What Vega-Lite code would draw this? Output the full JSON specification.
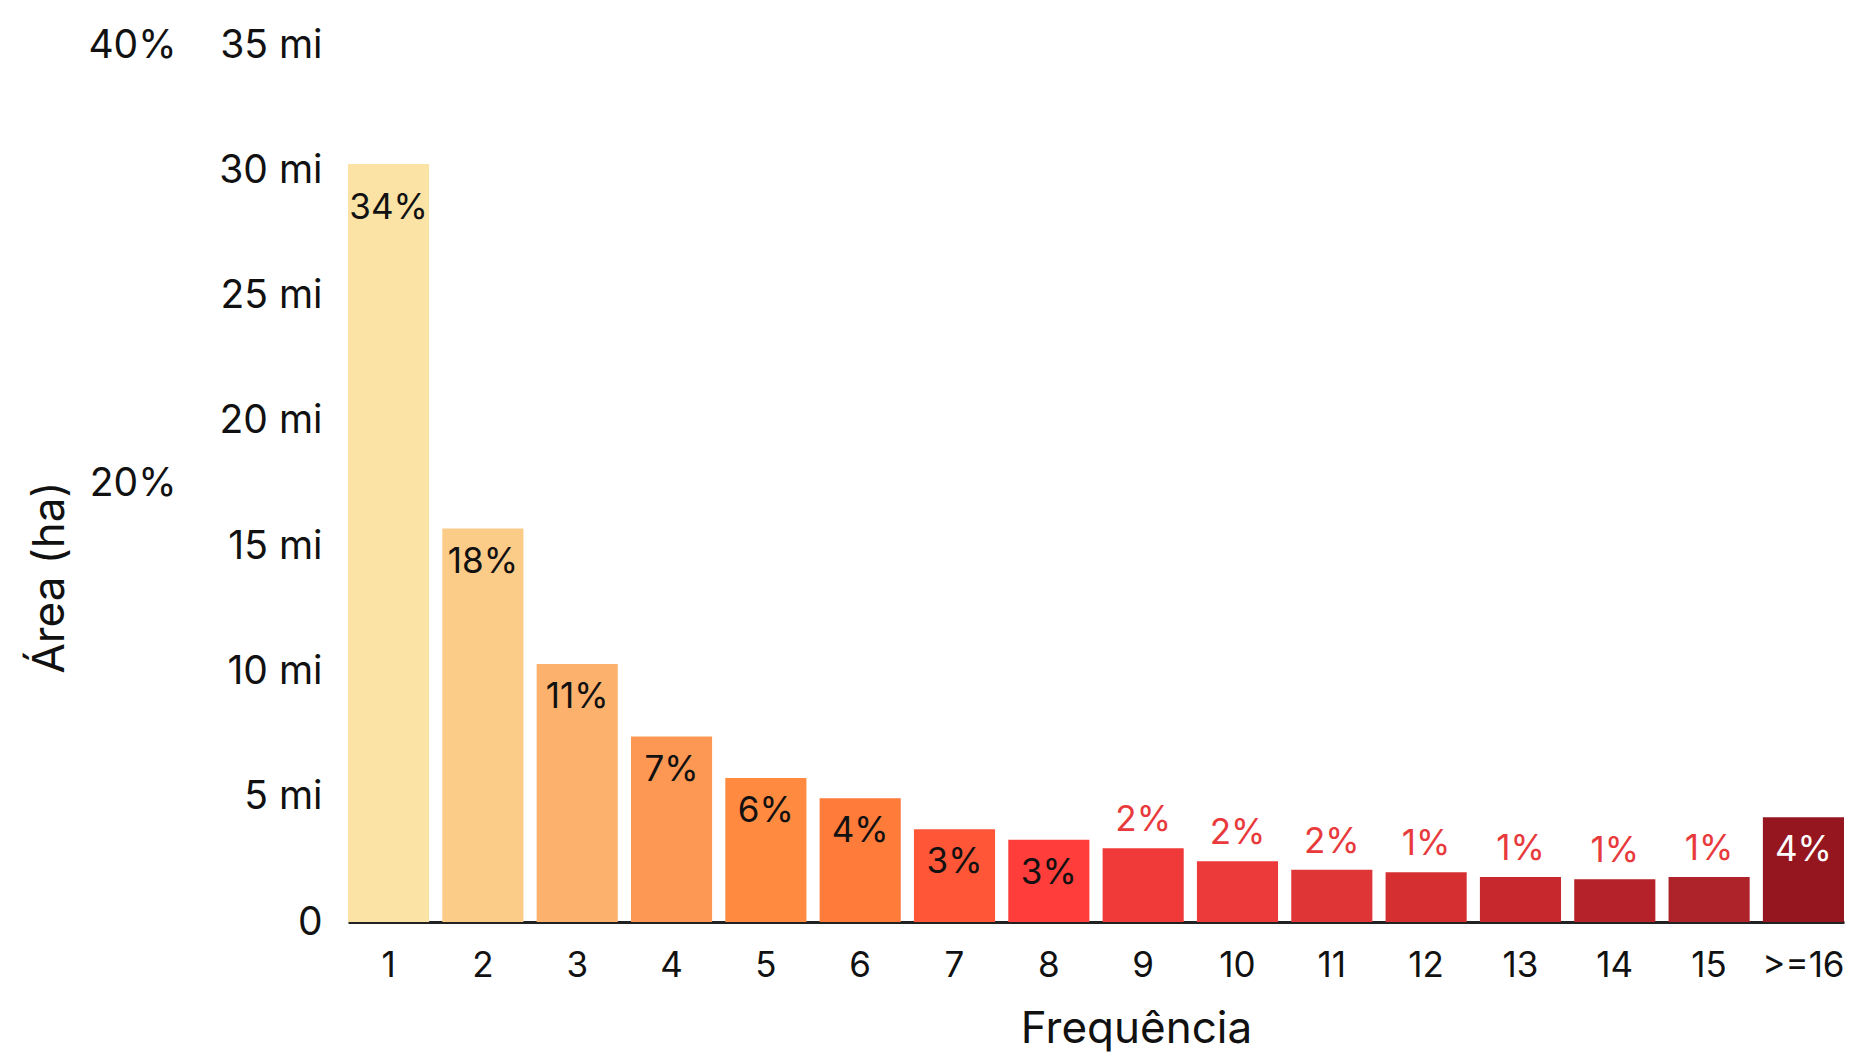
{
  "$schema": "https://vega.github.io/schema/vega-lite/v6.json",
  "width": 1496,
  "height": 877,
  "autosize": {"type": "none"},
  "padding": {"left": 348, "top": 45, "right": 21, "bottom": 134},
  "background": "white",
  "config": {
    "view": {"stroke": null},
    "font": "Inter",
    "axis": {"labelFont": "Inter", "titleFont": "Inter", "labelFontWeight": 400, "titleFontWeight": 400}
  },
  "data": {
    "values": [
      {"freq": "1", "area": 30.25, "pct": 34, "label": "34%"},
      {"freq": "2", "area": 15.7, "pct": 18, "label": "18%"},
      {"freq": "3", "area": 10.3, "pct": 11, "label": "11%"},
      {"freq": "4", "area": 7.4, "pct": 7, "label": "7%"},
      {"freq": "5", "area": 5.75, "pct": 6, "label": "6%"},
      {"freq": "6", "area": 4.94, "pct": 4, "label": "4%"},
      {"freq": "7", "area": 3.7, "pct": 3, "label": "3%"},
      {"freq": "8", "area": 3.28, "pct": 3, "label": "3%"},
      {"freq": "9", "area": 2.94, "pct": 2, "label": "2%"},
      {"freq": "10", "area": 2.42, "pct": 2, "label": "2%"},
      {"freq": "11", "area": 2.09, "pct": 2, "label": "2%"},
      {"freq": "12", "area": 1.99, "pct": 1, "label": "1%"},
      {"freq": "13", "area": 1.8, "pct": 1, "label": "1%"},
      {"freq": "14", "area": 1.71, "pct": 1, "label": "1%"},
      {"freq": "15", "area": 1.8, "pct": 1, "label": "1%"},
      {"freq": ">=16", "area": 4.18, "pct": 4, "label": "4%"}
    ]
  },
  "encoding": {
    "x": {
      "field": "freq",
      "type": "ordinal",
      "sort": null,
      "scale": {"paddingInner": 0.14, "paddingOuter": 0},
      "axis": {
        "title": "Frequência",
        "titleFontSize": 44,
        "titleColor": "#111",
        "titleX": 788,
        "titleY": 107,
        "titleBaseline": "middle",
        "labelAngle": 0,
        "labelFontSize": 35,
        "labelColor": "#111",
        "labelPadding": 26,
        "ticks": false,
        "domainColor": "#222",
        "domainWidth": 3,
        "grid": false
      }
    }
  },
  "layer": [
    {
      "encoding": {
        "y": {
          "field": "area",
          "type": "quantitative",
          "scale": {"domain": [0, 35], "nice": false},
          "axis": {
            "title": "Área (ha)",
            "titleFontSize": 44,
            "titleColor": "#111",
            "titleX": -298,
            "titleY": 532,
            "titleAngle": -90,
            "titleBaseline": "middle",
            "titleAlign": "center",
            "values": [0, 5, 10, 15, 20, 25, 30, 35],
            "labelExpr": "datum.value == 0 ? '0' : datum.value + ' mi'",
            "labelFontSize": 39,
            "labelColor": "#111",
            "labelPadding": 26,
            "ticks": false,
            "domain": false,
            "grid": false
          }
        }
      },
      "layer": [
        {
          "mark": {"type": "bar"},
          "encoding": {
            "color": {
              "field": "freq",
              "type": "ordinal",
              "sort": null,
              "legend": null,
              "scale": {
                "domain": ["1","2","3","4","5","6","7","8","9","10","11","12","13","14","15",">=16"],
                "range": ["#FAE3A5","#FBCB88","#FCB26D","#FD9854","#FF8A40","#FF7B3A","#FF5638","#FF3D3A","#F03A3A","#EC3A3A","#E03536","#D52F31","#C7282D","#B5222A","#AE2229","#961620"]
              }
            }
          }
        },
        {
          "transform": [{"filter": {"field": "freq", "oneOf": ["1"]}}],
          "mark": {"type": "text", "baseline": "middle", "dy": 44, "fontSize": 35, "color": "#111"},
          "encoding": {"text": {"field": "label"}}
        },
        {
          "transform": [{"filter": {"field": "freq", "oneOf": ["2","3","4","5","6","7","8"]}}],
          "mark": {"type": "text", "baseline": "middle", "dy": 33, "fontSize": 35, "color": "#111"},
          "encoding": {"text": {"field": "label"}}
        },
        {
          "transform": [{"filter": {"field": "freq", "oneOf": ["9","10","11","12","13","14","15"]}}],
          "mark": {"type": "text", "baseline": "middle", "dy": -28, "fontSize": 35, "color": "#E83A3C"},
          "encoding": {"text": {"field": "label"}}
        },
        {
          "transform": [{"filter": {"field": "freq", "oneOf": [">=16"]}}],
          "mark": {"type": "text", "baseline": "middle", "dy": 33, "fontSize": 35, "color": "white"},
          "encoding": {"text": {"field": "label"}}
        }
      ]
    },
    {
      "mark": {"type": "tick", "opacity": 0},
      "encoding": {
        "y": {
          "field": "pct",
          "type": "quantitative",
          "scale": {"domain": [0, 40], "nice": false},
          "axis": {
            "orient": "left",
            "title": null,
            "values": [20, 40],
            "labelExpr": "datum.value + '%'",
            "labelFontSize": 39,
            "labelColor": "#111",
            "labelPadding": 24,
            "offset": 148,
            "ticks": false,
            "domain": false,
            "grid": false
          }
        }
      }
    }
  ],
  "resolve": {"scale": {"y": "independent"}, "axis": {"y": "independent"}}
}
